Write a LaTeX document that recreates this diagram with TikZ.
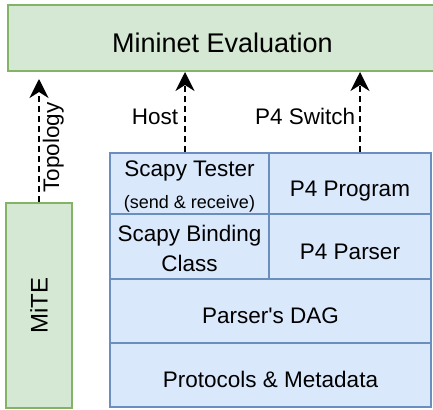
\documentclass[tikz,border=0pt]{standalone}
\usepackage{fontspec}
\setmainfont{Liberation Sans}
\newfontfamily\lsans{Liberation Sans}
\usepackage{tikz}
\usetikzlibrary{arrows.meta}
\definecolor{mnfill}{HTML}{D5E8D4}
\definecolor{mnline}{HTML}{82B366}
\definecolor{stfill}{HTML}{DAE8FC}
\definecolor{stline}{HTML}{6C8EBF}
\tikzset{
  greenbox/.style={draw=mnline, fill=mnfill, line width=2pt, inner sep=0pt},
  bluebox/.style={draw=stline, fill=stfill, line width=1.6pt, inner sep=0pt, align=center},
  lowtext/.style={text height=25pt, text depth=0pt},
  flow/.style={line width=1.8pt, dash pattern=on 6pt off 4pt, -{Stealth[length=19pt,width=19pt,inset=6pt]}},
}

\begin{document}
\begin{tikzpicture}[x=1pt, y=-1pt, font=\lsans\fontsize{22.5}{27}\selectfont]
  \useasboundingbox (0,0) rectangle (433,409);
  \pgfmathsetmacro{\colL}{189.5}
  \pgfmathsetmacro{\colR}{350}
  \pgfmathsetmacro{\colW}{270.5}

  % evaluation on top
  \node[greenbox, minimum width=429pt, minimum height=66pt, text height=29pt, text depth=0pt,
        font=\lsans\fontsize{27}{32}\selectfont] (mininet) at (222.5,38) {Mininet Evaluation};

  % generator on the left
  \node[greenbox, minimum width=66pt, minimum height=205pt] (mite) at (39,305.5) {};
  \node[rotate=90, font=\lsans\fontsize{24}{28}\selectfont] at (mite.center) {MiTE};

  % the stack
  \node[bluebox, minimum width=159pt, minimum height=61pt] (tester) at (\colL,183.5)
    {\rule{0pt}{22pt}Scapy Tester\\[5pt]{\fontsize{18}{20}\selectfont (send \& receive)}};
  \node[bluebox, lowtext, minimum width=162pt, minimum height=61pt] (program) at (\colR,183.5) {P4 Program};
  \node[bluebox, minimum width=159pt, minimum height=65pt] (binding) at (\colL,246.5)
    {\rule{0pt}{20pt}Scapy Binding\\[3pt]Class};
  \node[bluebox, lowtext, minimum width=162pt, minimum height=65pt] (parser) at (\colR,246.5) {P4 Parser};
  \node[bluebox, lowtext, minimum width=321pt, minimum height=64pt] (dag) at (\colW,311) {Parser's DAG};
  \node[bluebox, lowtext, minimum width=321pt, minimum height=64pt] (protocols) at (\colW,375) {Protocols \& Metadata};

  % links up to mininet
  \draw[flow, shorten >=7pt] (mite.north) -- (mite.north |- mininet.south)
    node[pos=0.42, rotate=90, anchor=north, inner sep=3pt] {Topology};
  \draw[flow] ([xshift=-4.5pt]tester.north) -- ([xshift=-4.5pt]tester.north |- mininet.south)
    node[midway, left, lowtext, inner sep=6pt] {Host};
  \draw[flow] ([xshift=10pt]program.north) -- ([xshift=10pt]program.north |- mininet.south)
    node[midway, left, lowtext, inner sep=4pt] {P4 Switch};
\end{tikzpicture}
\end{document}
